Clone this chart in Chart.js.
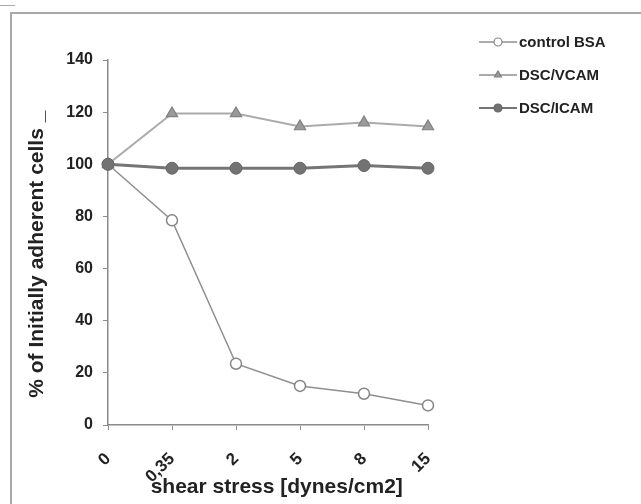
<!DOCTYPE html>
<html>
<head>
<meta charset="utf-8">
<script src="https://cdn.jsdelivr.net/npm/chart.js@4/dist/chart.umd.min.js"></script>
<style>
  html, body { margin: 0; padding: 0; background: #fff; }
  .wrap { position: relative; width: 641px; height: 504px; overflow: hidden; }
  .frame { position: absolute; left: 10px; top: 12px; width: 700px; height: 600px;
    border-left: 2px solid #a8a8a8; border-top: 2px solid #a8a8a8; }
  .nick { position: absolute; left: 0; top: 5px; width: 15px; height: 1px; background: #aaa; }
  canvas { position: absolute; left: 0; top: 0; }
</style>
</head>
<body>
<div class="wrap">
  <div class="nick"></div>
  <div class="frame"></div>
  <canvas class="line-chart" width="641" height="504"></canvas>
</div>
<script>
const shearLabels = ['0', '0,35', '2', '5', '8', '15'];

const controlBSA = [100, 78.5, 23.5, 15, 12, 7.5];
const dscVCAM = [100, 119.5, 119.5, 114.5, 116, 114.5];
const dscICAM = [100, 98.5, 98.5, 98.5, 99.5, 98.5];

const seriesNames = ['control BSA', 'DSC/VCAM', 'DSC/ICAM'];

// the titles sit a little off centre in the original, padded with spaces
const yTitle = '% of Initially adherent cells _\u00a0\u00a0\u00a0\u00a0';
const xTitle = '\u00a0\u00a0\u00a0shear stress [dynes/cm2]';

const fontFamily = 'Arial, "Liberation Sans", sans-serif';

/**
 * Draws the legend by hand: a short line with the marker on it, then the name.
 */
const sideLegend = {
  id: 'sideLegend',
  afterDraw(chart) {
    const { ctx } = chart;
    const rows = [42, 75, 108];
    const byName = {};
    chart.data.datasets.forEach((ds) => { byName[ds.label] = ds; });
    seriesNames.forEach((name, i) => {
      const ds = byName[name];
      const y = rows[i];
      ctx.save();
      ctx.strokeStyle = ds.borderColor;
      ctx.lineWidth = Math.min(ds.borderWidth, 2);
      ctx.beginPath();
      ctx.moveTo(479, y);
      ctx.lineTo(517, y);
      ctx.stroke();
      ctx.fillStyle = ds.pointBackgroundColor;
      ctx.strokeStyle = ds.pointBorderColor;
      ctx.lineWidth = 1.2;
      Chart.helpers.drawPoint(ctx, {
        pointStyle: ds.pointStyle,
        radius: 4,
        rotation: 0,
        borderWidth: 1.2,
      }, 498, y);
      ctx.fillStyle = '#222';
      ctx.font = 'bold 15px ' + fontFamily;
      ctx.textAlign = 'left';
      ctx.textBaseline = 'middle';
      ctx.fillText(name, 519, y + 1);
      ctx.restore();
    });
  },
};

const renderChart = () => {
  const lineChart = document.querySelector('.line-chart');
  // eslint-disable-next-line no-new, no-undef
  new Chart(lineChart, {
    type: 'line',
    data: {
      labels: shearLabels,
      datasets: [
        {
          label: seriesNames[0],
          data: controlBSA,
          order: 2,
          borderColor: '#8f8f8f',
          borderWidth: 1.5,
          pointStyle: 'circle',
          pointRadius: 5.5,
          pointBackgroundColor: '#ffffff',
          pointBorderColor: '#858585',
          pointBorderWidth: 1.5,
        },
        {
          label: seriesNames[1],
          data: dscVCAM,
          order: 1,
          borderColor: '#ababab',
          borderWidth: 2,
          pointStyle: 'triangle',
          pointRadius: 6.5,
          pointBackgroundColor: '#9a9a9a',
          pointBorderColor: '#808080',
          pointBorderWidth: 1.2,
        },
        {
          label: seriesNames[2],
          data: dscICAM,
          order: 0,
          borderColor: '#757575',
          borderWidth: 3,
          pointStyle: 'circle',
          pointRadius: 6,
          pointBackgroundColor: '#737373',
          pointBorderColor: '#666666',
          pointBorderWidth: 1,
        },
      ],
    },
    options: {
      responsive: false,
      animation: false,
      devicePixelRatio: 1,
      layout: {
        padding: { left: 25, top: 60, right: 213, bottom: 0 },
      },
      plugins: {
        legend: { display: false },
        tooltip: { enabled: false },
      },
      scales: {
        x: {
          offset: false,
          afterFit(scale) { scale.height = 79; },
          border: { color: '#8a8a8a', width: 1.5 },
          grid: { drawOnChartArea: false, drawTicks: true, tickLength: 5, color: '#8a8a8a' },
          ticks: {
            color: '#222',
            font: { family: fontFamily, size: 17, weight: 'bold' },
            minRotation: 45,
            maxRotation: 45,
            padding: 19,
          },
          title: {
            display: true,
            text: xTitle,
            color: '#222',
            font: { family: fontFamily, size: 21, weight: 'bold' },
            padding: { top: 0, bottom: 4 },
          },
        },
        y: {
          min: 0,
          max: 140,
          afterFit(scale) { scale.width = 83; },
          border: { color: '#8a8a8a', width: 1.5 },
          grid: { drawOnChartArea: false, drawTicks: true, tickLength: 5, color: '#8a8a8a' },
          ticks: {
            stepSize: 20,
            color: '#222',
            font: { family: fontFamily, size: 16, weight: 'bold' },
            padding: 10,
          },
          title: {
            display: true,
            text: yTitle,
            color: '#222',
            font: { family: fontFamily, size: 21, weight: 'bold' },
            padding: { top: 0, bottom: 0 },
          },
        },
      },
    },
    plugins: [sideLegend],
  });
};

renderChart();
</script>
</body>
</html>
